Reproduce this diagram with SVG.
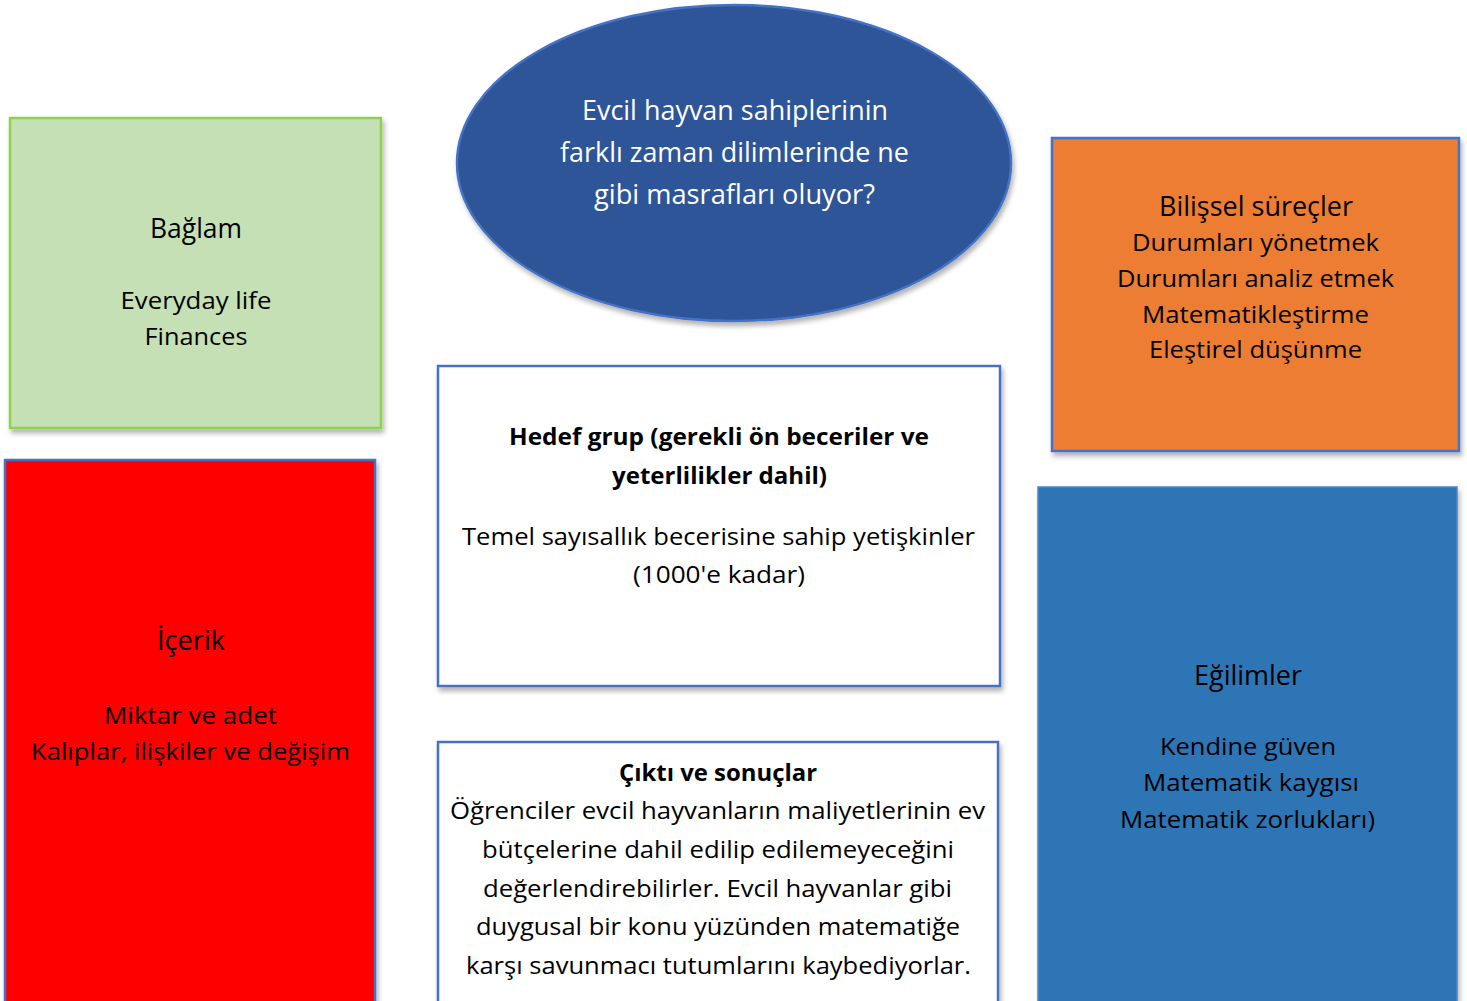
<svg xmlns="http://www.w3.org/2000/svg" width="1467" height="1001" viewBox="0 0 1467 1001">
<style>
text{font-family:"Open Sans","Noto Sans","DejaVu Sans",sans-serif;text-anchor:middle;fill:#000}
.t{font-size:27px}
.b{font-size:23.5px}
.h{font-size:23.5px;font-weight:bold}
.e{font-size:27px;fill:#fff}
.box{stroke:#4472c4;stroke-width:2.5;filter:url(#sh)}
</style>
<defs>
<filter id="sh" x="-5%" y="-5%" width="112%" height="112%">
<feDropShadow dx="2" dy="4" stdDeviation="2.5" flood-color="#000" flood-opacity="0.3"/>
</filter>
</defs>
<rect width="1467" height="1001" fill="#fff"/>
<g id="connectors"/>
<g id="baglam">
<rect class="box" x="10" y="118" width="371" height="310" fill="#c5e0b4" style="stroke:#8fd14f"/>
<text class="t" x="196" y="238" textLength="92" lengthAdjust="spacingAndGlyphs">Bağlam</text>
<text class="b" x="196" y="309" textLength="151" lengthAdjust="spacingAndGlyphs">Everyday life</text>
<text class="b" x="196" y="345" textLength="103" lengthAdjust="spacingAndGlyphs">Finances</text>
</g>
<g id="soru">
<ellipse class="box" cx="734" cy="163" rx="277" ry="158" fill="#2f5597"/>
<text class="e" x="735" y="120" textLength="306" lengthAdjust="spacingAndGlyphs">Evcil hayvan sahiplerinin</text>
<text class="e" x="734.5" y="162" textLength="349" lengthAdjust="spacingAndGlyphs">farklı zaman dilimlerinde ne</text>
<text class="e" x="734.5" y="204" textLength="281" lengthAdjust="spacingAndGlyphs">gibi masrafları oluyor?</text>
</g>
<g id="bilissel">
<rect class="box" x="1052" y="138" width="407" height="313" fill="#ed7d31"/>
<text class="t" x="1256" y="216" textLength="194" lengthAdjust="spacingAndGlyphs">Bilişsel süreçler</text>
<text class="b" x="1255.5" y="251" textLength="247" lengthAdjust="spacingAndGlyphs">Durumları yönetmek</text>
<text class="b" x="1255.5" y="287" textLength="277" lengthAdjust="spacingAndGlyphs">Durumları analiz etmek</text>
<text class="b" x="1255.5" y="323" textLength="227" lengthAdjust="spacingAndGlyphs">Matematikleştirme</text>
<text class="b" x="1255.5" y="358" textLength="213" lengthAdjust="spacingAndGlyphs">Eleştirel düşünme</text>
</g>
<g id="hedef">
<rect class="box" x="438" y="366" width="562" height="320" fill="#fff"/>
<text class="h" x="719" y="445" textLength="420" lengthAdjust="spacingAndGlyphs">Hedef grup (gerekli ön beceriler ve</text>
<text class="h" x="719.5" y="484" textLength="215" lengthAdjust="spacingAndGlyphs">yeterlilikler dahil)</text>
<text class="b" x="718.5" y="545" textLength="513" lengthAdjust="spacingAndGlyphs">Temel sayısallık becerisine sahip yetişkinler</text>
<text class="b" x="719" y="583" textLength="172" lengthAdjust="spacingAndGlyphs">(1000'e kadar)</text>
</g>
<g id="icerik">
<rect class="box" x="5" y="460" width="370" height="560" fill="#ff0000"/>
<text class="t" x="191" y="650" textLength="68" lengthAdjust="spacingAndGlyphs">İçerik</text>
<text class="b" x="190.5" y="724" textLength="173" lengthAdjust="spacingAndGlyphs">Miktar ve adet</text>
<text class="b" x="190.5" y="760" textLength="319" lengthAdjust="spacingAndGlyphs">Kalıplar, ilişkiler ve değişim</text>
</g>
<g id="egilimler">
<rect class="box" x="1038" y="487" width="419" height="540" fill="#2e75b6" style="stroke:#4f81c8;stroke-width:1.5"/>
<text class="t" x="1248" y="685" textLength="108" lengthAdjust="spacingAndGlyphs">Eğilimler</text>
<text class="b" x="1248" y="755" textLength="176" lengthAdjust="spacingAndGlyphs">Kendine güven</text>
<text class="b" x="1251" y="791" textLength="216" lengthAdjust="spacingAndGlyphs">Matematik kaygısı</text>
<text class="b" x="1247.5" y="828" textLength="255" lengthAdjust="spacingAndGlyphs">Matematik zorlukları)</text>
</g>
<g id="cikti">
<rect class="box" x="438" y="742" width="560" height="290" fill="#fff"/>
<text class="h" x="718" y="781" textLength="198" lengthAdjust="spacingAndGlyphs">Çıktı ve sonuçlar</text>
<text class="b" x="717.5" y="819" textLength="535" lengthAdjust="spacingAndGlyphs">Öğrenciler evcil hayvanların maliyetlerinin ev</text>
<text class="b" x="718" y="858" textLength="472" lengthAdjust="spacingAndGlyphs">bütçelerine dahil edilip edilemeyeceğini</text>
<text class="b" x="717.5" y="897" textLength="469" lengthAdjust="spacingAndGlyphs">değerlendirebilirler. Evcil hayvanlar gibi</text>
<text class="b" x="718" y="935" textLength="484" lengthAdjust="spacingAndGlyphs">duygusal bir konu yüzünden matematiğe</text>
<text class="b" x="718.5" y="974" textLength="505" lengthAdjust="spacingAndGlyphs">karşı savunmacı tutumlarını kaybediyorlar.</text>
</g>
</svg>
